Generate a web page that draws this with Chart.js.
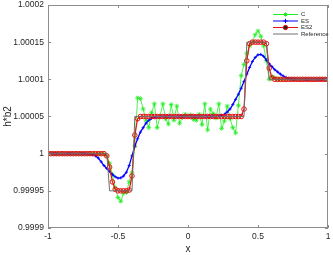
<!DOCTYPE html>
<html>
<head>
<meta charset="utf-8">
<script src="https://cdn.jsdelivr.net/npm/chart.js@4.4.1/dist/chart.umd.min.js"></script>
<style>
  html, body { margin: 0; padding: 0; background: #fff; }
</style>
</head>
<body>
<canvas id="chart" width="333" height="255"></canvas>
<script>
// grid points (x) shared by all four curves
const xs = [
  -1, -0.98, -0.96, -0.94, -0.92, -0.9, -0.88, -0.86, -0.84, -0.82,
  -0.8, -0.78, -0.76, -0.74, -0.72, -0.7, -0.68, -0.66, -0.64, -0.62,
  -0.6, -0.58, -0.56, -0.54, -0.52, -0.5, -0.48, -0.46, -0.44, -0.42,
  -0.4, -0.38, -0.36, -0.34, -0.32, -0.3, -0.28, -0.26, -0.24, -0.22,
  -0.2, -0.18, -0.16, -0.14, -0.12, -0.1, -0.08, -0.06, -0.04, -0.02,
  0, 0.02, 0.04, 0.06, 0.08, 0.1, 0.12, 0.14, 0.16, 0.18,
  0.2, 0.22, 0.24, 0.26, 0.28, 0.3, 0.32, 0.34, 0.36, 0.38,
  0.4, 0.42, 0.44, 0.46, 0.48, 0.5, 0.52, 0.54, 0.56, 0.58,
  0.6, 0.62, 0.64, 0.66, 0.68, 0.7, 0.72, 0.74, 0.76, 0.78,
  0.8, 0.82, 0.84, 0.86, 0.88, 0.9, 0.92, 0.94, 0.96, 0.98,
  1
];

const cVals = [
  1, 1, 1, 1, 1, 1, 1, 1, 1, 1,
  1, 1, 1, 1, 1, 1, 1, 1, 1, 1,
  1, 0.999997, 0.999987, 0.999972, 0.999954, 0.999941, 0.999936, 0.999947, 0.999948, 0.999962,
  0.999974, 1.00001, 1.000075, 1.000074, 1.00006, 1.000045, 1.000035, 1.000055, 1.000067, 1.000035,
  1.00005, 1.000067, 1.000047, 1.00004, 1.000066, 1.000045, 1.000064, 1.000041, 1.000049, 1.000053,
  1.00005, 1.000052, 1.000046, 1.000045, 1.000053, 1.000039, 1.000067, 1.000032, 1.00006, 1.000054,
  1.000048, 1.000067, 1.000034, 1.000044, 1.000064, 1.000047, 1.000035, 1.000028, 1.000065, 1.000105,
  1.00012, 1.000135, 1.000145, 1.00015, 1.00016, 1.000165, 1.000158, 1.000145, 1.000125, 1.0001,
  1.000104, 1.000102, 1.0001, 1.0001, 1.0001, 1.0001, 1.0001, 1.0001, 1.0001, 1.0001,
  1.0001, 1.0001, 1.0001, 1.0001, 1.0001, 1.0001, 1.0001, 1.0001, 1.0001, 1.0001,
  1.0001
];

const esVals = [
  1, 1, 1, 1, 1, 1, 1, 1, 1, 1,
  1, 1, 1, 1, 0.9999998, 0.9999995, 0.9999988, 0.999997, 0.999994, 0.999989,
  0.999984, 0.99998, 0.999976, 0.999972, 0.999969, 0.999967, 0.9999675, 0.99997, 0.999975, 0.999984,
  0.999997, 1.00001, 1.00002, 1.000029, 1.000035, 1.000041, 1.000045, 1.0000475, 1.000049, 1.0000497,
  1.00005, 1.00005, 1.00005, 1.00005, 1.00005, 1.00005, 1.00005, 1.00005, 1.00005, 1.00005,
  1.00005, 1.00005, 1.00005, 1.00005, 1.00005, 1.00005, 1.00005, 1.00005, 1.00005, 1.00005,
  1.00005, 1.0000505, 1.0000515, 1.000053, 1.000056, 1.00006, 1.000066, 1.000073, 1.00008, 1.000088,
  1.000097, 1.000107, 1.000116, 1.000124, 1.0001295, 1.000133, 1.0001335, 1.000131, 1.000126, 1.000121,
  1.000117, 1.000113, 1.00011, 1.000107, 1.0001045, 1.0001025, 1.000101, 1.0001004, 1.0001001, 1.0001,
  1.0001, 1.0001, 1.0001, 1.0001, 1.0001, 1.0001, 1.0001, 1.0001, 1.0001, 1.0001,
  1.0001
];

const es2Vals = [
  1, 1, 1, 1, 1, 1, 1, 1, 1, 1,
  1, 1, 1, 1, 1, 1, 1, 1, 1, 1,
  1, 0.999997, 0.999982, 0.999962, 0.999952, 0.99995, 0.99995, 0.99995, 0.99995, 0.999951,
  0.99997, 1.000025, 1.000047, 1.00005, 1.00005, 1.00005, 1.00005, 1.00005, 1.00005, 1.00005,
  1.00005, 1.00005, 1.00005, 1.00005, 1.00005, 1.00005, 1.00005, 1.00005, 1.00005, 1.00005,
  1.00005, 1.00005, 1.00005, 1.00005, 1.00005, 1.00005, 1.00005, 1.00005, 1.00005, 1.00005,
  1.00005, 1.00005, 1.00005, 1.00005, 1.00005, 1.00005, 1.00005, 1.00005, 1.00005, 1.00005,
  1.00006, 1.000125, 1.000148, 1.00015, 1.00015, 1.00015, 1.00015, 1.00015, 1.000148, 1.000115,
  1.000102, 1.0001, 1.0001, 1.0001, 1.0001, 1.0001, 1.0001, 1.0001, 1.0001, 1.0001,
  1.0001, 1.0001, 1.0001, 1.0001, 1.0001, 1.0001, 1.0001, 1.0001, 1.0001, 1.0001,
  1.0001
];

const refVals = [
  1, 1, 1, 1, 1, 1, 1, 1, 1, 1,
  1, 1, 1, 1, 1, 1, 1, 1, 1, 1,
  1, 1, 0.99995, 0.99995, 0.99995, 0.99995, 0.99995, 0.99995, 0.99995, 0.99995,
  0.99995, 1.00005, 1.00005, 1.00005, 1.00005, 1.00005, 1.00005, 1.00005, 1.00005, 1.00005,
  1.00005, 1.00005, 1.00005, 1.00005, 1.00005, 1.00005, 1.00005, 1.00005, 1.00005, 1.00005,
  1.00005, 1.00005, 1.00005, 1.00005, 1.00005, 1.00005, 1.00005, 1.00005, 1.00005, 1.00005,
  1.00005, 1.00005, 1.00005, 1.00005, 1.00005, 1.00005, 1.00005, 1.00005, 1.00005, 1.00005,
  1.00005, 1.00015, 1.00015, 1.00015, 1.00015, 1.00015, 1.00015, 1.00015, 1.00015, 1.0001,
  1.0001, 1.0001, 1.0001, 1.0001, 1.0001, 1.0001, 1.0001, 1.0001, 1.0001, 1.0001,
  1.0001, 1.0001, 1.0001, 1.0001, 1.0001, 1.0001, 1.0001, 1.0001, 1.0001, 1.0001,
  1.0001
];

const seriesNames = ["C", "ES", "ES2", "Reference"];
const xTicks = [-1, -0.5, 0, 0.5, 1];
const xTickLabels = ["-1", "-0.5", "0", "0.5", "1"];
const yTicks = [0.9999, 0.99995, 1, 1.00005, 1.0001, 1.00015, 1.0002];
const yTickLabels = ["0.9999", "0.99995", "1", "1.00005", "1.0001", "1.00015", "1.0002"];

const GREEN = "#22ee22";
const BLUE = "#0000ff";
const RED = "#e81010";
const GRAY = "#707070";
const AXIS = "#8c8c8c";
const TEXT = "#262626";
const FONT = "'Liberation Sans', Arial, sans-serif";

const points = vals => xs.map((x, i) => ({ x, y: vals[i] }));

// matlab-ish box with inward ticks on all four sides
const framePlugin = {
  id: "frame",
  afterDatasetsDraw(chart) {
    const { ctx, chartArea: a, scales } = chart;
    ctx.save();
    ctx.strokeStyle = AXIS;
    ctx.lineWidth = 1;
    ctx.strokeRect(a.left + 0.5, a.top + 0.5, a.right - a.left - 1, a.bottom - a.top - 1);
    ctx.beginPath();
    xTicks.forEach(v => {
      const px = Math.round(scales.x.getPixelForValue(v)) + 0.5;
      ctx.moveTo(px, a.bottom); ctx.lineTo(px, a.bottom - 3);
      ctx.moveTo(px, a.top); ctx.lineTo(px, a.top + 3);
    });
    yTicks.forEach(v => {
      const py = Math.round(scales.y.getPixelForValue(v)) + 0.5;
      ctx.moveTo(a.left, py); ctx.lineTo(a.left + 3, py);
      ctx.moveTo(a.right, py); ctx.lineTo(a.right - 3, py);
    });
    ctx.stroke();
    ctx.restore();
  },
};

const legendPlugin = {
  id: "miniLegend",
  afterDraw(chart) {
    const { ctx } = chart;
    const items = [
      { color: GREEN, style: "star" },
      { color: BLUE, style: "cross" },
      { color: RED, style: "circle" },
      { color: GRAY, style: false },
    ];
    ctx.save();
    ctx.font = "6px " + FONT;
    ctx.textBaseline = "middle";
    items.forEach((it, i) => {
      const y = 14.5 + i * 6.5;
      ctx.strokeStyle = it.color;
      ctx.lineWidth = 1;
      ctx.beginPath();
      ctx.moveTo(273, y); ctx.lineTo(298, y);
      ctx.stroke();
      if (it.style) {
        Chart.helpers.drawPoint(ctx, { pointStyle: it.style, radius: 2.2, rotation: 0, borderWidth: 1 }, 285.5, y);
      }
      ctx.fillStyle = TEXT;
      ctx.fillText(seriesNames[i], 301, y);
    });
    ctx.restore();
  },
};

new Chart(document.getElementById("chart"), {
  type: "line",
  data: {
    datasets: [
      { label: seriesNames[0], data: points(cVals), order: 3, borderColor: GREEN, borderWidth: 0.8,
        pointStyle: "star", pointRadius: 2.4, pointBorderWidth: 0.8, pointBorderColor: GREEN, pointBackgroundColor: GREEN },
      { label: seriesNames[1], data: points(esVals), order: 2, borderColor: BLUE, borderWidth: 1.3,
        pointStyle: "cross", pointRadius: 1.6, pointBorderWidth: 0.8, pointBorderColor: BLUE },
      { label: seriesNames[2], data: points(es2Vals), order: 1, borderColor: RED, borderWidth: 1.2,
        pointStyle: "circle", pointRadius: 2.3, pointBorderWidth: 1, pointBorderColor: RED, pointBackgroundColor: "rgba(0,0,0,0)" },
      { label: seriesNames[3], data: points(refVals), order: 0, borderColor: GRAY, borderWidth: 1, pointRadius: 0 },
    ],
  },
  options: {
    responsive: false,
    animation: false,
    layout: { padding: { top: 3, right: 2, left: 0, bottom: 0 } },
    plugins: { legend: { display: false }, tooltip: { enabled: false } },
    scales: {
      x: {
        type: "linear",
        min: -1,
        max: 1,
        afterBuildTicks: s => { s.ticks = xTicks.map(value => ({ value })); },
        afterFit: s => { s.height = 27; s.paddingLeft = 0; s.paddingRight = 0; },
        grid: { display: false, drawTicks: false },
        border: { display: false },
        ticks: { padding: 4, color: TEXT, font: { family: FONT, size: 8.5 }, maxRotation: 0,
          callback: (v, i) => xTickLabels[i] },
        title: { display: true, text: "x", color: TEXT, font: { family: FONT, size: 10 }, padding: { top: 0, bottom: 0 } },
      },
      y: {
        min: 0.9999,
        max: 1.0002,
        afterBuildTicks: s => { s.ticks = yTicks.map(value => ({ value })); },
        afterFit: s => { s.width = 48; s.paddingTop = 0; s.paddingBottom = 0; },
        grid: { display: false, drawTicks: false },
        border: { display: false },
        ticks: { padding: 4, color: TEXT, font: { family: FONT, size: 8.5 },
          callback: (v, i) => yTickLabels[i] },
        title: { display: true, text: "h*b2", color: TEXT, font: { family: FONT, size: 10 }, padding: { top: 2, bottom: 0 } },
      },
    },
  },
  plugins: [framePlugin, legendPlugin],
});
</script>
</body>
</html>
